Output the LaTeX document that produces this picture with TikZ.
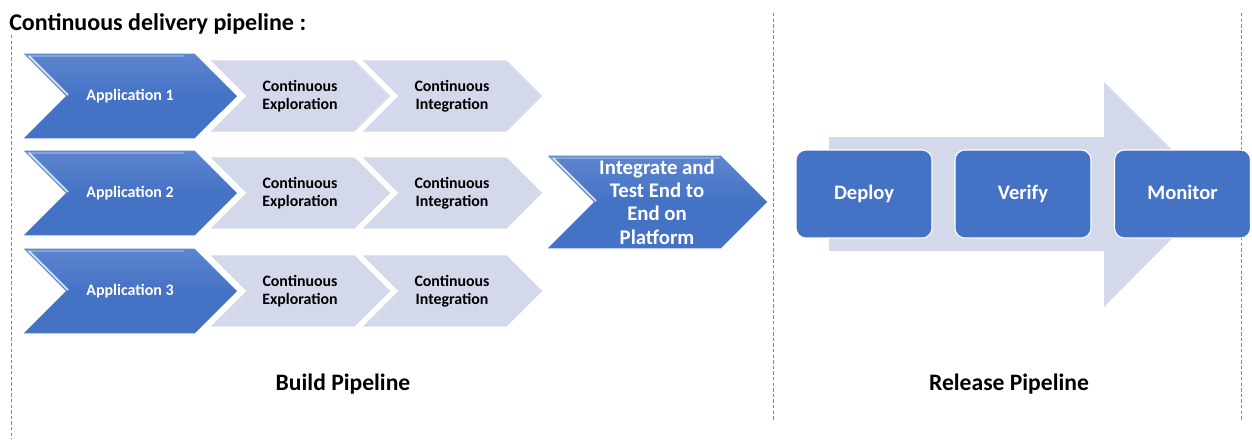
\documentclass[tikz,border=0pt]{standalone}
\usepackage{fontspec}
\setmainfont{Carlito}
\usetikzlibrary{shapes.symbols}
\definecolor{appblue}{HTML}{4472C4}
\definecolor{apptop}{HTML}{5E86CF}
\definecolor{apphigh}{HTML}{86A4DC}
\definecolor{steplight}{HTML}{D3D8EB}
\definecolor{guidegray}{HTML}{7D8BA0}
\tikzset{
  appchev/.style={signal, signal from=west, signal to=east, draw=white, line width=0.8pt,
    top color=apptop, bottom color=appblue, middle color=appblue,
    minimum width=162pt, minimum height=64.5pt, inner sep=0pt,
    text=white, font=\bfseries\fontsize{12}{14}\selectfont},
  stepchev/.style={signal, signal from=west, signal to=east, draw=white, line width=1.2pt,
    fill=steplight, minimum width=137.25pt, minimum height=54.75pt, inner sep=0pt,
    align=center, font=\bfseries\fontsize{11.9}{13.2}\selectfont},
  e2echev/.style={appchev, minimum width=166.5pt, minimum height=70.5pt,
    align=center, font=\bfseries\fontsize{15.6}{17.6}\selectfont},
  relbox/.style={rectangle, rounded corners=7.5pt, draw=white, line width=0.8pt,
    fill=appblue, minimum width=102pt, minimum height=66pt, inner sep=0pt,
    text height=11pt, text depth=3pt,
    text=white, font=\bfseries\fontsize{15.4}{18}\selectfont},
  bevel/.style={white, opacity=0.75, line width=1.5pt},
  tophigh/.style={apphigh, line width=2pt},
  guide/.style={guidegray, line width=0.6pt, dash pattern=on 2.6pt off 1.6pt},
  heading/.style={anchor=base, font=\bfseries\fontsize{17.7}{20}\selectfont}
}
\begin{document}
\begin{tikzpicture}[x=0.75pt, y=-0.75pt]
\useasboundingbox (0,0) rectangle (1252,439);
\draw[guide] (11,35) -- (11,439);
\draw[guide] (773,13) -- (773,420);
\draw[guide] (1241,13) -- (1241,420);
\node[anchor=base west, inner sep=0pt, font=\bfseries\fontsize{18}{20}\selectfont] (title) at (9,31) {Continuous delivery pipeline :};
\node[stepchev] (ci1) at (452,96) {Continuous\\Integration};
\node[stepchev] (ce1) at (300,96) {Continuous\\Exploration};
\node[appchev] (app1) at (130,96) {Application 1};
\node[stepchev] (ci2) at (452,193) {Continuous\\Integration};
\node[stepchev] (ce2) at (300,193) {Continuous\\Exploration};
\node[appchev] (app2) at (130,193) {Application 2};
\node[stepchev] (ci3) at (452,291) {Continuous\\Integration};
\node[stepchev] (ce3) at (300,291) {Continuous\\Exploration};
\node[appchev] (app3) at (130,291) {Application 3};
\node[e2echev] (e2e) at (657,202) {Integrate and\\Test End to\\End on\\Platform};
\draw[tophigh] ([shift={(-104,-40)}]app1.center) -- ++(158,0);
\draw[tophigh] ([shift={(-104,-40)}]app2.center) -- ++(158,0);
\draw[tophigh] ([shift={(-104,-40)}]app3.center) -- ++(158,0);
\draw[tophigh] ([shift={(-107,-44)}]e2e.center) -- ++(170,0);
\draw[bevel] ([shift={(-101,-40)}]app1.center) -- ++(39,39);
\draw[bevel] ([shift={(-101,-40)}]app2.center) -- ++(39,39);
\draw[bevel] ([shift={(-101,-40)}]app3.center) -- ++(39,39);
\draw[bevel] ([shift={(-104,-44)}]e2e.center) -- ++(43,43);
\fill[steplight] (829,137) -- (1104,137) -- (1104,82) -- (1216,194) -- (1104,307) -- (1104,251) -- (829,251) -- cycle;
\node[relbox] (deploy) at (864,194) {Deploy};
\node[relbox] (verify) at (1023,194) {Verify};
\node[relbox] (monitor) at (1182.5,194) {Monitor};
\node[heading] (build) at (343,390) {Build Pipeline};
\node[heading] (release) at (1009,390) {Release Pipeline};
\end{tikzpicture}
\end{document}
